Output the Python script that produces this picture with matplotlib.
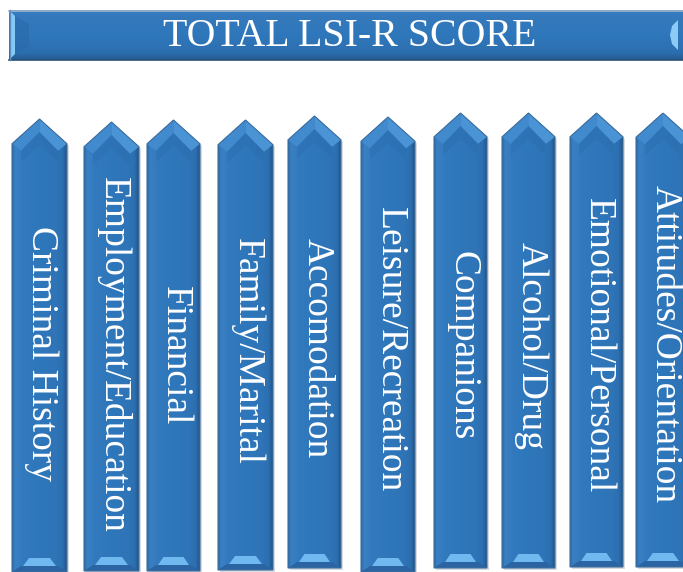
import matplotlib
matplotlib.use("Agg")
import matplotlib.pyplot as plt
import numpy as np
from matplotlib.patches import Polygon, Rectangle
from matplotlib.colors import to_rgb

# ---- content ----
title = "TOTAL LSI-R SCORE"
categories = ["Criminal History", "Employment/Education", "Financial",
              "Family/Marital", "Accomodation", "Leisure/Recreation",
              "Companions", "Alcohol/Drug", "Emotional/Personal",
              "Attitudes/Orientation"]

# ---- layout (pixel coordinates, y downward) ----
arrow_left = [12, 84, 147, 218, 288, 361, 434, 502, 570, 636]
arrow_right = [67, 139, 200, 273, 341, 415, 487, 555, 623, 690]
arrow_tip = [119, 122, 120, 120, 116, 117, 113, 113, 113, 113]
arrow_bottom = [572, 571, 571, 570, 568, 572, 568, 568, 567, 567]
label_y = [354, 355, 356, 351, 348, 350, 346, 346, 346, 344]

W, H = 683, 572
fig = plt.figure(figsize=(W / 100, H / 100), dpi=100)
ax = fig.add_axes([0, 0, 1, 1])
ax.set_xlim(0, W)
ax.set_ylim(H, 0)
ax.axis("off")

FONT = ["Liberation Serif", "DejaVu Serif"]


def hgrad(stops, n=200):
    xs = np.linspace(0, 1, n)
    pos = [s[0] for s in stops]
    cols = np.array([to_rgb(s[1]) for s in stops])
    arr = np.stack([np.interp(xs, pos, cols[:, k]) for k in range(3)], axis=-1)
    return arr[None, :, :]


def vgrad(stops, n=200):
    ys = np.linspace(0, 1, n)
    pos = [s[0] for s in stops]
    cols = np.array([to_rgb(s[1]) for s in stops])
    arr = np.stack([np.interp(ys, pos, cols[:, k]) for k in range(3)], axis=-1)
    return arr[:, None, :]


# ---- banner ----
bx0, bx1, by0, by1 = 9, 700, 10, 60
banner = Rectangle((bx0, by0), bx1 - bx0, by1 - by0, facecolor="none",
                   edgecolor="none")
ax.add_patch(banner)
img = vgrad([(0, "#3A7FC0"), (0.12, "#3479BC"), (0.5, "#2F77BB"),
             (0.85, "#2C6FB0"), (1, "#24598F")])
im = ax.imshow(img, extent=(bx0, bx1, by1, by0), aspect="auto",
               interpolation="bilinear", zorder=1)
im.set_clip_path(banner)
ax.plot([bx0, bx1], [by0 + 0.5, by0 + 0.5], color="#9FB4CC", lw=1.2, zorder=3)
ax.plot([bx0, bx1], [by1 - 0.5, by1 - 0.5], color="#2B4F78", lw=1.2, zorder=3)
ax.plot([bx0 + 0.5, bx0 + 0.5], [by0, by1], color="#5E8FC0", lw=1, zorder=3)
# left bevel
ax.add_patch(Polygon([(bx0 + 1, by0 + 1), (bx0 + 6, by0 + 6), (bx0 + 6, by1 - 6),
                      (bx0 + 1, by1 - 1)], closed=True, facecolor="#86C9F6",
                     edgecolor="none", zorder=2))
ax.add_patch(Polygon([(bx0 + 6, by0 + 6), (bx0 + 20, by0 + 14), (bx0 + 20, by1 - 14),
                      (bx0 + 6, by1 - 6)], closed=True, facecolor="#2A68A8",
                     edgecolor="none", alpha=0.5, zorder=2))
# right bevel highlight
ax.add_patch(Polygon([(678, 20), (672, 26), (670, 35), (672, 44), (678, 50)],
                     closed=True, facecolor="#8BCBF5", edgecolor="none", zorder=2))
ax.text(350, 46.5, title, color="white", fontsize=28.7, family=FONT,
        ha="center", va="baseline", zorder=4)

# ---- arrows ----
body_grad = hgrad([(0, "#2A68A6"), (0.06, "#3A81C4"), (0.2, "#3279BD"),
                   (0.5, "#2F77BB"), (0.8, "#2E74B7"), (0.92, "#2D70B1"),
                   (0.97, "#275F99"), (1, "#1E4F82")])

for i, name in enumerate(categories):
    x0, x1 = arrow_left[i], arrow_right[i]
    yt, yb = arrow_tip[i], arrow_bottom[i]
    cx = (x0 + x1) / 2
    half = (x1 - x0) / 2
    ys = yt + 0.9 * half
    outline = [(cx, yt), (x1, ys), (x1, yb), (x0, yb), (x0, ys)]
    # shadow
    ax.add_patch(Polygon([(px + 2, py + 2) for px, py in outline], closed=True,
                         facecolor="#7F8A96", edgecolor="none", alpha=0.3,
                         zorder=1))
    poly = Polygon(outline, closed=True, facecolor="#2F77BB", edgecolor="none",
                   zorder=2)
    ax.add_patch(poly)
    im = ax.imshow(body_grad, extent=(x0, x1, yb, yt), aspect="auto",
                   interpolation="bilinear", zorder=2)
    im.set_clip_path(poly)
    # top bevel facets
    bw = 9
    ia = (cx, yt + 13)
    il = (x0 + bw, ys + 7)
    ir = (x1 - bw, ys + 7)
    ax.add_patch(Polygon([(cx, yt), (x0, ys), il, ia], closed=True,
                         facecolor="#418ACD", edgecolor="none", zorder=3))
    ax.add_patch(Polygon([(cx, yt), (x1, ys), ir, ia], closed=True,
                         facecolor="#4A93D5", edgecolor="none", zorder=3))
    ax.add_patch(Polygon([ia, ir, (x1 - bw, ys + 18), (cx, yt + 26),
                          (x0 + bw, ys + 18), il], closed=True,
                         facecolor="#2A6BAA", edgecolor="none", alpha=0.35,
                         zorder=3))
    # bottom bevel
    ax.add_patch(Polygon([(x0, yb), (x1, yb), (x1 - bw, yb - 6), (x0 + bw, yb - 6)],
                         closed=True, facecolor="#2A64A2", edgecolor="none",
                         zorder=3))
    ax.add_patch(Polygon([(x0 + bw + 2, yb - 6), (x1 - bw - 2, yb - 6),
                          (cx + half * 0.38, yb - 14), (cx - half * 0.38, yb - 14)],
                         closed=True, facecolor="#6FB8F0", edgecolor="none",
                         zorder=3))
    # outline
    ax.add_patch(Polygon(outline, closed=True, facecolor="none",
                         edgecolor="#3F6F9F", lw=0.8, zorder=4))
    ax.text(cx + 2, label_y[i], name, color="white", fontsize=27, family=FONT,
            rotation=-90, ha="center", va="center", zorder=5)

fig.savefig("out.png", dpi=100)
